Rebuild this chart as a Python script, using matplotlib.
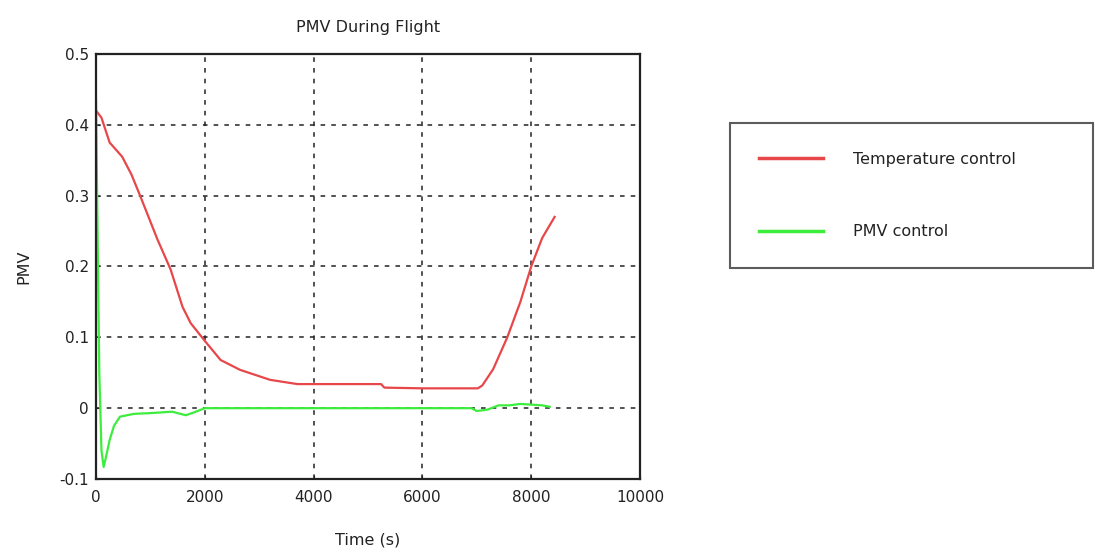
import numpy as np
import matplotlib
matplotlib.use('Agg')
import matplotlib.pyplot as plt

plt.rcParams['font.family'] = ['DejaVu Sans']

# Temperature control (red)
t_temp = [0, 100, 250, 480, 650, 810, 1130, 1370, 1590, 1740, 2010, 2290, 2650,
          3200, 3700, 4500, 5240, 5300, 6000, 7020, 7100, 7300, 7560, 7800,
          8000, 8200, 8430]
pmv_temp = [0.42, 0.41, 0.375, 0.355, 0.33, 0.30, 0.238, 0.196, 0.143, 0.12,
            0.094, 0.068, 0.054, 0.04, 0.034, 0.034, 0.034, 0.029, 0.028, 0.028,
            0.032, 0.055, 0.10, 0.15, 0.20, 0.24, 0.27]

# PMV control (green)
t_pmv = [0, 20, 60, 100, 140, 180, 250, 330, 440, 700, 1000, 1400, 1650, 1800,
         2000, 3000, 5000, 6900, 7000, 7200, 7400, 7600, 7800, 8000, 8200, 8340]
pmv_pmv = [0.435, 0.3, 0.05, -0.06, -0.083, -0.07, -0.045, -0.025, -0.012,
           -0.008, -0.007, -0.005, -0.01, -0.006, 0.0, 0.0, 0.0, 0.0, -0.004,
           -0.002, 0.004, 0.004, 0.006, 0.005, 0.004, 0.002]

xticks = [0, 2000, 4000, 6000, 8000, 10000]
yticks = [-0.1, 0, 0.1, 0.2, 0.3, 0.4, 0.5]
yticklabels = ['-0.1', '0', '0.1', '0.2', '0.3', '0.4', '0.5']

fig = plt.figure(figsize=(10.95, 5.53), dpi=100)
ax = fig.add_axes([0.0877, 0.1338, 0.4968, 0.7686])

l1, = ax.plot(t_temp, pmv_temp, color='#e8474a', lw=1.6, label='Temperature control')
l2, = ax.plot(t_pmv, pmv_pmv, color='#3ded3d', lw=1.6, label='PMV control')

ax.set_xlim(0, 10000)
ax.set_ylim(-0.1, 0.5)
ax.set_xticks(xticks)
ax.set_yticks(yticks)
ax.set_xticklabels([str(v) for v in xticks])
ax.set_yticklabels(yticklabels)
ax.tick_params(direction='in', length=3, labelsize=11, colors='#222222')
ax.tick_params(axis='x', pad=8)
ax.tick_params(axis='y', pad=5)
ax.grid(True, color='#222222', linestyle=(0, (3, 4)), linewidth=1.1)
for s in ax.spines.values():
    s.set_linewidth(1.6)
    s.set_color('#222222')

ax.set_title('PMV During Flight', fontsize=11.5, pad=15.5, color='#222222')
ax.set_xlabel('Time (s)', fontsize=11.5, labelpad=20, color='#222222')
ax.set_ylabel('PMV', fontsize=11.5, labelpad=20, color='#222222')

leg = fig.legend(handles=[l1, l2], loc='upper left',
                 bbox_to_anchor=(730 / 1095, 1 - 123 / 553, 363 / 1095, 0.0),
                 mode='expand', fontsize=11.5, frameon=True, fancybox=False,
                 handlelength=4.0, handletextpad=1.9, labelspacing=3.6,
                 borderpad=1.8, borderaxespad=0)
leg.get_frame().set_edgecolor('#333333')
leg.get_frame().set_linewidth(1.5)
for h in leg.get_lines():
    h.set_linewidth(2.5)
for txt in leg.get_texts():
    txt.set_color('#222222')

fig.savefig('out.png', dpi=100)
